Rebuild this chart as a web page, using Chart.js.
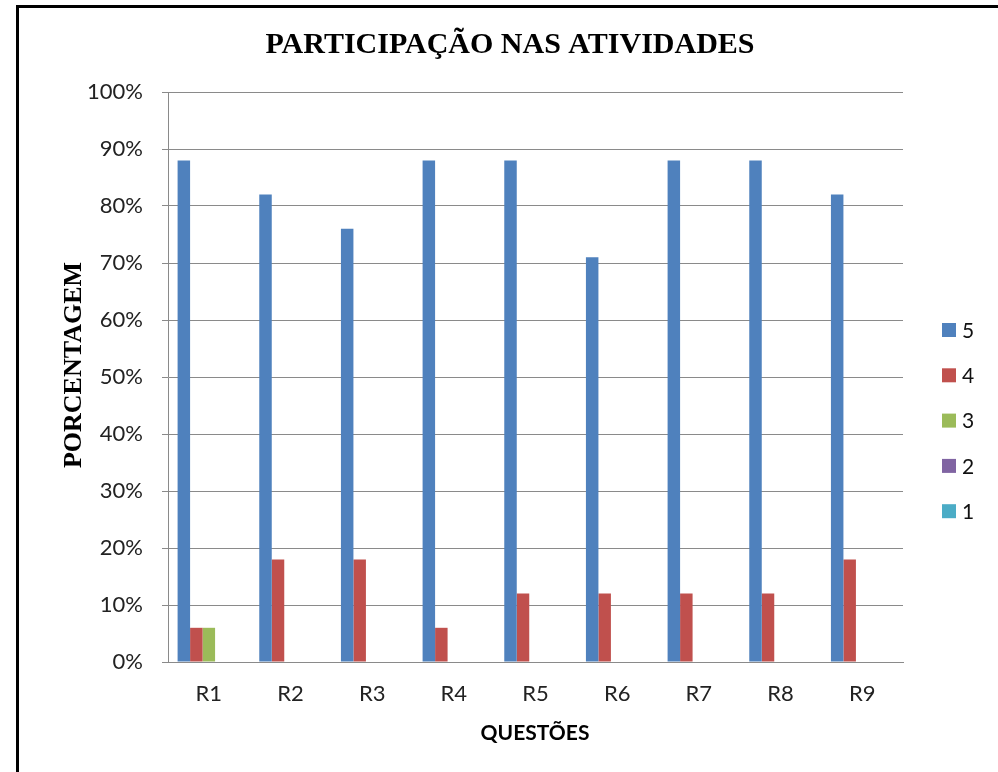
<!DOCTYPE html>
<html lang="pt">
<head>
<meta charset="utf-8">
<title>Participação nas atividades</title>
<script src="https://cdn.jsdelivr.net/npm/chart.js@4.4.1/dist/chart.umd.min.js"></script>
<style>
  html, body { margin: 0; padding: 0; background: #fff; }
  #wrap { position: relative; width: 998px; height: 772px; overflow: hidden; }
  #frame {
    position: absolute; left: 16px; top: 5px; width: 1100px; height: 900px;
    border-left: 3px solid #000; border-top: 3px solid #000; pointer-events: none;
  }
  canvas { position: absolute; left: 0; top: 0; }
</style>
</head>
<body>
<div id="wrap">
  <canvas id="chart" width="998" height="772"></canvas>
  <div id="frame"></div>
</div>
<script>
const questoes = ['R1', 'R2', 'R3', 'R4', 'R5', 'R6', 'R7', 'R8', 'R9'];
const nota5 = [88, 82, 76, 88, 88, 71, 88, 88, 82];
const nota4 = [6, 18, 18, 6, 12, 12, 12, 12, 18];
const nota3 = [6, 0, 0, 0, 0, 0, 0, 0, 0];
const nota2 = [0, 0, 0, 0, 0, 0, 0, 0, 0];
const nota1 = [0, 0, 0, 0, 0, 0, 0, 0, 0];
const yTicks = [0, 10, 20, 30, 40, 50, 60, 70, 80, 90, 100];

const gridColor = '#8a8a8a';
const tickFont = { family: 'Lato', size: 22 };

// titles and the side legend are painted by hand
const textPlugin = {
  id: 'textos',
  afterDraw(chart) {
    const ctx = chart.ctx;
    ctx.save();
    ctx.fillStyle = '#000';
    ctx.textAlign = 'center';
    ctx.textBaseline = 'middle';

    ctx.font = 'bold 30px "Liberation Serif"';
    ctx.fillText('PARTICIPAÇÃO NAS ATIVIDADES', 510, 45);

    ctx.font = 'bold 21px Lato';
    ctx.fillText('QUESTÕES', 535, 733);

    ctx.save();
    ctx.translate(74, 365);
    ctx.rotate(-Math.PI / 2);
    ctx.font = 'bold 26px "Liberation Serif"';
    ctx.fillText('PORCENTAGEM', 0, 0);
    ctx.restore();

    // legend
    ctx.textAlign = 'left';
    ctx.font = '21px Lato';
    chart.data.datasets.forEach((ds, i) => {
      const y = 330 + i * 45.3;
      ctx.fillStyle = ds.backgroundColor;
      ctx.fillRect(942, y - 7, 14, 14);
      ctx.fillStyle = '#111';
      ctx.fillText(ds.label, 962, y + 1);
    });
    ctx.restore();
  }
};

new Chart(document.getElementById('chart'), {
  type: 'bar',
  data: {
    labels: questoes,
    datasets: [
      { label: '5', data: nota5, backgroundColor: '#4F81BD' },
      { label: '4', data: nota4, backgroundColor: '#C0504D' },
      { label: '3', data: nota3, backgroundColor: '#9BBB59' },
      { label: '2', data: nota2, backgroundColor: '#8064A2' },
      { label: '1', data: nota1, backgroundColor: '#4BACC6' }
    ]
  },
  options: {
    responsive: false,
    animation: false,
    categoryPercentage: 0.765,
    barPercentage: 1,
    layout: { padding: { top: 92, right: 95, left: 0, bottom: 0 } },
    plugins: {
      legend: { display: false },
      title: { display: false },
      tooltip: { enabled: false }
    },
    scales: {
      x: {
        afterFit: (s) => { s.height = 110; },
        grid: { display: false, drawTicks: false },
        border: { display: true, color: gridColor },
        ticks: { font: tickFont, color: '#222', padding: 19 }
      },
      y: {
        min: 0,
        max: 100,
        afterFit: (s) => { s.width = 168; },
        afterBuildTicks: (s) => { s.ticks = yTicks.map(v => ({ value: v })); },
        grid: { color: gridColor, tickLength: 6 },
        border: { display: true, color: gridColor },
        ticks: {
          font: tickFont,
          color: '#222',
          padding: 19,
          callback: (v) => v + '%'
        }
      }
    }
  },
  plugins: [textPlugin]
});
</script>
</body>
</html>
